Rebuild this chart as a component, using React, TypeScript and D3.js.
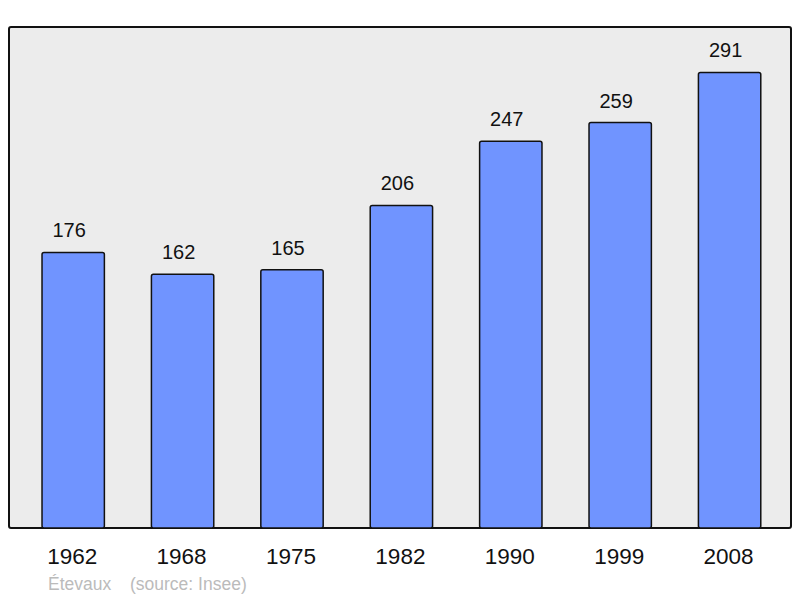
import * as React from 'react';
import * as d3 from 'd3';

const years = ['1962', '1968', '1975', '1982', '1990', '1999', '2008'];
const population = [176, 162, 165, 206, 247, 259, 291];
const placeName = 'Étevaux';
const sourceNote = '(source: Insee)';

export default function App() {
  const width = 800;
  const height = 598;
  const panel = {left: 9, top: 27, right: 791, bottom: 528};

  const xScale = d3.scaleBand<string>()
    .domain(years)
    .range([18.5, 784.3])
    .paddingInner(0.43)
    .paddingOuter(0.215);

  const yScale = d3.scaleLinear()
    .domain([0, 320])
    .range([panel.bottom, panel.top]);

  const font = '"Liberation Sans", Arial, sans-serif';

  return (
    <svg width={width} height={height}
      style={{position: 'absolute', left: 0, top: 0, fontFamily: font}}>
      <rect x={panel.left} y={panel.top}
        width={panel.right - panel.left} height={panel.bottom - panel.top}
        rx={2} fill="#ececec" stroke="#111" strokeWidth={2} />
      {years.map((yr, i) => {
        const x = xScale(yr)!;
        const y = yScale(population[i]);
        const cx = x + xScale.bandwidth() / 2;
        return (
          <g key={yr}>
            <rect x={x} y={y} width={xScale.bandwidth()} height={panel.bottom - y}
              rx={2} fill="#7094ff" stroke="#111" strokeWidth={1.5} />
            <text x={cx - 4} y={y - 15}
              textAnchor="middle" fontSize={20} fill="#111">{population[i]}</text>
            <text x={cx - 1} y={564}
              textAnchor="middle" fontSize={22.5} fill="#111">{yr}</text>
          </g>
        );
      })}
      <text x={48} y={590} fontSize={17.5} fill="#bbb">{placeName}</text>
      <text x={130} y={590} fontSize={17.5} fill="#bbb">{sourceNote}</text>
    </svg>
  );
}
